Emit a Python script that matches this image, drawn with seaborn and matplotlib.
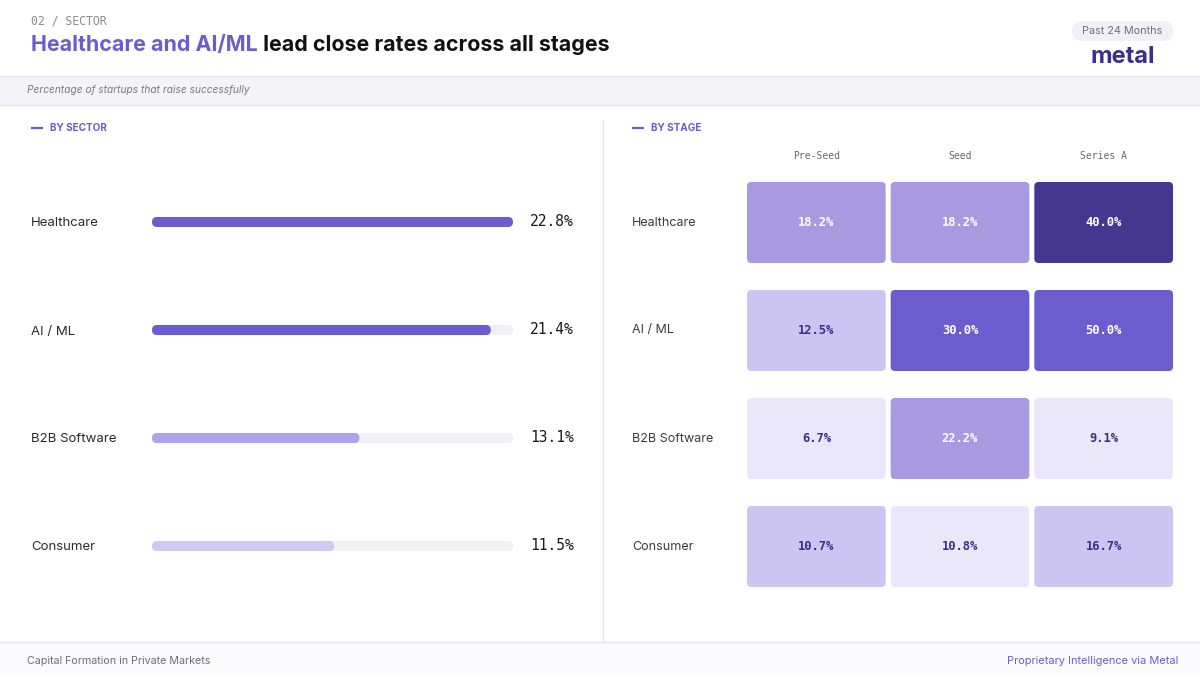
import matplotlib
matplotlib.use("Agg")
import matplotlib.pyplot as plt
import pandas as pd
import seaborn as sns
from matplotlib.colors import ListedColormap
from matplotlib.patches import FancyBboxPatch

# ---- data ----
sectors = ["Healthcare", "AI / ML", "B2B Software", "Consumer"]
sector_rates = [22.8, 21.4, 13.1, 11.5]
stages = ["Pre-Seed", "Seed", "Series A"]
stage_rates = [
    [18.2, 18.2, 40.0],
    [12.5, 30.0, 50.0],
    [6.7, 22.2, 9.1],
    [10.7, 10.8, 16.7],
]
# shade tier of each cell as it is coloured in the source (0 = lightest)
stage_tiers = [
    [2, 2, 4],
    [1, 3, 3],
    [0, 2, 0],
    [1, 0, 1],
]

# ---- style ----
PURPLE = "#6b5ccf"
DARK_PURPLE = "#3e2f8f"
TRACK = "#f0f0f5"
BAR_COLORS = ["#6b5ccf", "#6b5ccf", "#aca3ea", "#cfc9f4"]
TIER_COLORS = ["#ebe7fb", "#cdc5f1", "#a899e1", "#6b5ccf", "#453790"]
SANS = ["Inter", "DejaVu Sans"]
MONO = ["DejaVu Sans Mono"]

sns.set_theme(style="white")
plt.rcParams["font.family"] = SANS

W, H = 1200, 675
fig = plt.figure(figsize=(12, 6.75), dpi=100)


def px_axes(x0, y0, x1, y1):
    # axes from a pixel box, origin top-left
    return fig.add_axes([x0 / W, 1 - y1 / H, (x1 - x0) / W, (y1 - y0) / H])


def round_bars(ax, radius_px, px_x, px_y):
    # swap plain rectangles for rounded ones with the same geometry
    for p in list(ax.patches):
        x, y, w, h = p.get_x(), p.get_y(), p.get_width(), p.get_height()
        r = radius_px / px_x
        fb = FancyBboxPatch((x, y), w, h, boxstyle=f"round,pad=0,rounding_size={r}",
                            mutation_aspect=px_x / px_y, facecolor=p.get_facecolor(),
                            edgecolor="none", zorder=p.get_zorder())
        p.remove()
        ax.add_patch(fb)


# ---- page furniture ----
bg = fig.add_axes([0, 0, 1, 1])
bg.set_xlim(0, W)
bg.set_ylim(H, 0)
bg.axis("off")

bg.add_patch(plt.Rectangle((0, 76), W, 29, facecolor="#f3f3f8", edgecolor="none"))
bg.plot([0, W], [76, 76], color="#e2e2ec", lw=1)
bg.plot([0, W], [105, 105], color="#e2e2ec", lw=1)
bg.add_patch(plt.Rectangle((0, 642), W, 33, facecolor="#fbfbfd", edgecolor="none"))
bg.plot([0, W], [642, 642], color="#e6e6ee", lw=1)
bg.plot([603, 603], [120, 642], color="#e6e6ee", lw=1)

bg.text(31, 21, "02 / SECTOR", family=MONO, size=8.3, color="#8a8a92", va="center")
t1 = bg.text(31, 45, "Healthcare and AI/ML", size=15.4, weight="bold", color=PURPLE, va="center")
fig.canvas.draw()
x_end = t1.get_window_extent().x1
bg.text(x_end, 45, " lead close rates across all stages", size=15.4, weight="bold",
        color="#111111", va="center")
bg.text(27, 90, "Percentage of startups that raise successfully", size=7.3, style="italic",
        color="#7a7a86", va="center")

bg.add_patch(FancyBboxPatch((1072, 21), 101, 20, boxstyle="round,pad=0,rounding_size=10",
                            facecolor="#f0f0f6", edgecolor="none"))
bg.text(1122.5, 31.5, "Past 24 Months", size=7.8, color="#6e6e7a", ha="center", va="center")
bg.text(1123, 57, "metal", size=17, weight="bold", color=DARK_PURPLE, ha="center", va="center")

for x0, label in [(31, "BY SECTOR"), (632, "BY STAGE")]:
    bg.plot([x0, x0 + 12], [128, 128], color=PURPLE, lw=1.6, solid_capstyle="butt")
    bg.text(x0 + 19, 128, label, size=7.2, weight="bold", color=PURPLE, va="center")

bg.text(27, 661, "Capital Formation in Private Markets", size=7.7, color="#6e6e7a", va="center")
bg.text(1178, 661, "Proprietary Intelligence via Metal", size=7.9, color=PURPLE,
        ha="right", va="center")

# ---- left: close rate by sector ----
ax = px_axes(152, 168, 513, 600)
bars = pd.DataFrame({"sector": sectors, "rate": sector_rates})
bars["track"] = bars["rate"].max()
sns.barplot(data=bars, x="track", y="sector", color=TRACK, width=0.093, saturation=1, ax=ax)
sns.barplot(data=bars, x="rate", y="sector", hue="sector", palette=BAR_COLORS, width=0.093,
            saturation=1, legend=False, ax=ax)
ax.set_xlim(0, bars["rate"].max())
ax.set_ylim(3.5, -0.5)
round_bars(ax, 5, 361 / bars["rate"].max(), 108)
ax.set_xlabel("")
ax.set_ylabel("")
ax.set_xticks([])
ax.tick_params(axis="y", length=0, pad=121 * 0.72, labelsize=9.5, labelcolor="#2a2a30")
for lbl in ax.get_yticklabels():
    lbl.set_ha("left")
sns.despine(ax=ax, left=True, bottom=True)
ax.patch.set_alpha(0)
for i, v in enumerate(sector_rates):
    ax.annotate(f"{v:.1f}%", xy=(1, i), xycoords=("axes fraction", "data"),
                xytext=(17 * 0.72, 0), textcoords="offset points", ha="left", va="center",
                family=MONO, size=10.5, color="#1a1a1a")

# ---- right: close rate by sector and stage ----
hx = px_axes(744.5, 168.5, 1175.5, 600.5)
tiers = pd.DataFrame(stage_tiers, index=sectors, columns=stages)
labels = pd.DataFrame(stage_rates, index=sectors, columns=stages).map(lambda v: f"{v:.1f}%")
sns.heatmap(tiers, cmap=ListedColormap(TIER_COLORS), vmin=-0.5, vmax=4.5, annot=labels, fmt="",
            cbar=False, ax=hx, annot_kws=dict(family=MONO, size=8.7, weight="bold"))
mesh = hx.collections[0]
mesh.update_scalarmappable()
cell_colors = mesh.get_facecolors()
mesh.set_visible(False)
dx, dy = 2.5 / 143.7, 13.5 / 108
for k, tier in enumerate(tiers.values.flat):
    i, j = divmod(k, len(stages))
    hx.add_patch(FancyBboxPatch((j + dx, i + dy), 1 - 2 * dx, 1 - 2 * dy,
                                boxstyle="round,pad=0,rounding_size=0.03",
                                mutation_aspect=143.7 / 108, facecolor=cell_colors[k],
                                edgecolor="none", zorder=1))
    hx.texts[k].set_color("white" if tier >= 2 else "#3b2f8a")
hx.xaxis.tick_top()
hx.tick_params(axis="x", length=0, pad=5.5, labelsize=7, labelcolor="#66666e")
hx.tick_params(axis="y", length=0, pad=(744.5 - 632) * 0.72, labelsize=9, labelcolor="#3a3a42")
plt.setp(hx.get_xticklabels(), rotation=0, family=MONO)
plt.setp(hx.get_yticklabels(), rotation=0, ha="left")
hx.set_xlabel("")
hx.set_ylabel("")

fig.savefig("out.png", dpi=100)
